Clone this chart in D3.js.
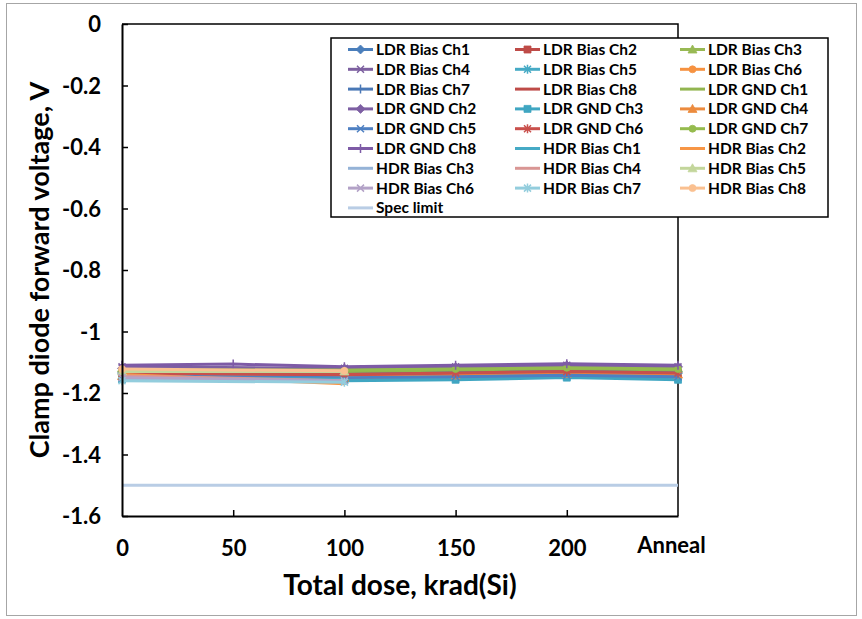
<!DOCTYPE html>
<html>
<head>
<meta charset="utf-8">
<script src="https://cdn.jsdelivr.net/npm/d3@7/dist/d3.min.js"></script>
<style>
  html, body { margin: 0; padding: 0; background: #fff; }
  svg { display: block; }
  text { font-family: Lato, "Open Sans", sans-serif; font-weight: bold; fill: #000; }
</style>
</head>
<body>
<svg id="chart" width="862" height="619"></svg>
<script>
// ---------- data ----------
const categories = ["0", "50", "100", "150", "200", "Anneal"];
const yTickValues = [0, -0.2, -0.4, -0.6, -0.8, -1, -1.2, -1.4, -1.6];
const yTickLabels = ["0", "-0.2", "-0.4", "-0.6", "-0.8", "-1", "-1.2", "-1.4", "-1.6"];

const seriesNames = [
  "LDR Bias Ch1", "LDR Bias Ch2", "LDR Bias Ch3", "LDR Bias Ch4", "LDR Bias Ch5", "LDR Bias Ch6",
  "LDR Bias Ch7", "LDR Bias Ch8", "LDR GND Ch1", "LDR GND Ch2", "LDR GND Ch3", "LDR GND Ch4",
  "LDR GND Ch5", "LDR GND Ch6", "LDR GND Ch7", "LDR GND Ch8", "HDR Bias Ch1", "HDR Bias Ch2",
  "HDR Bias Ch3", "HDR Bias Ch4", "HDR Bias Ch5", "HDR Bias Ch6", "HDR Bias Ch7", "HDR Bias Ch8",
  "Spec limit"
];

// values per category: 0, 50, 100, 150, 200, Anneal (null = not measured)
const ldrBiasCh1 = [-1.135, null, -1.140, -1.135, -1.130, -1.135];
const ldrBiasCh2 = [-1.140, null, -1.145, -1.140, -1.135, -1.140];
const ldrBiasCh3 = [-1.120, null, -1.125, -1.120, -1.115, -1.120];
const ldrBiasCh4 = [-1.115, null, -1.120, -1.115, -1.110, -1.115];
const ldrBiasCh5 = [-1.150, null, -1.155, -1.150, -1.145, -1.150];
const ldrBiasCh6 = [-1.140, null, -1.145, -1.140, -1.135, -1.138];
const ldrBiasCh7 = [-1.130, null, -1.135, -1.130, -1.125, -1.130];
const ldrBiasCh8 = [-1.140, null, -1.140, -1.138, -1.133, -1.137];
const ldrGndCh1  = [-1.125, null, -1.130, -1.125, -1.120, -1.125];
const ldrGndCh2  = [-1.120, null, -1.120, -1.116, -1.110, -1.115];
const ldrGndCh3  = [-1.155, null, -1.160, -1.157, -1.150, -1.157];
const ldrGndCh4  = [-1.145, null, -1.150, -1.143, -1.137, -1.140];
const ldrGndCh5  = [-1.145, null, -1.150, -1.147, -1.142, -1.147];
const ldrGndCh6  = [-1.135, null, -1.140, -1.135, -1.130, -1.135];
const ldrGndCh7  = [-1.125, null, -1.125, -1.122, -1.118, -1.122];
const ldrGndCh8  = [-1.110, -1.106, -1.115, -1.110, -1.105, -1.110];
const hdrBiasCh1 = [-1.150, null, -1.155, null, null, null];
const hdrBiasCh2 = [-1.140, null, -1.170, null, null, null];
const hdrBiasCh3 = [-1.155, null, -1.160, null, null, null];
const hdrBiasCh4 = [-1.145, null, -1.160, null, null, null];
const hdrBiasCh5 = [-1.130, null, -1.130, null, null, null];
const hdrBiasCh6 = [-1.150, null, -1.160, null, null, null];
const hdrBiasCh7 = [-1.160, null, -1.165, null, null, null];
const hdrBiasCh8 = [-1.122, null, -1.128, null, null, null];
const specLimit  = [-1.5, -1.5, -1.5, -1.5, -1.5, -1.5];

const seriesValues = [
  ldrBiasCh1, ldrBiasCh2, ldrBiasCh3, ldrBiasCh4, ldrBiasCh5, ldrBiasCh6, ldrBiasCh7, ldrBiasCh8,
  ldrGndCh1, ldrGndCh2, ldrGndCh3, ldrGndCh4, ldrGndCh5, ldrGndCh6, ldrGndCh7, ldrGndCh8,
  hdrBiasCh1, hdrBiasCh2, hdrBiasCh3, hdrBiasCh4, hdrBiasCh5, hdrBiasCh6, hdrBiasCh7, hdrBiasCh8,
  specLimit
];

// ---------- styles ----------
const colors = [
  "#4A7EBB", "#BE4B48", "#98B954", "#7D60A0", "#46AAC5", "#F69240",
  "#4A78B6", "#BE4B48", "#92B550", "#7D5FA3", "#40A6C2", "#EC8B3E",
  "#4F80C2", "#C9504C", "#95BB4E", "#7E5BA6", "#46AAC5", "#F79646",
  "#95B3D7", "#D99694", "#C3D69B", "#B3A2C7", "#93CDDD", "#FAC090",
  "#B9CDE5"
];
const markers = [
  "diamond", "square", "triangle", "x", "star", "circle",
  "plus", "none", "none", "diamond", "square", "triangle",
  "x", "star", "circle", "plus", "none", "none",
  "none", "none", "triangle", "x", "star", "circle",
  "none"
];

function markerPath(type, s) {
  const h = s / 2;
  switch (type) {
    case "diamond": return `M0,${-h-1}L${h+1},0L0,${h+1}L${-h-1},0Z`;
    case "square": return `M${-h},${-h}H${h}V${h}H${-h}Z`;
    case "triangle": return `M0,${-h-1}L${h+1},${h}L${-h-1},${h}Z`;
    case "circle": return d3.symbol(d3.symbolCircle, Math.PI * h * h)();
    case "x": return `M${-h},${-h}L${h},${h}M${h},${-h}L${-h},${h}`;
    case "star": return `M${-h},${-h}L${h},${h}M${h},${-h}L${-h},${h}M0,${-h-1}V${h+1}`;
    case "plus": return `M0,${-h-1}V${h+1}M${-h},0H${h}`;
    default: return null;
  }
}
const strokeOnly = t => t === "x" || t === "star" || t === "plus";

// ---------- layout ----------
const svg = d3.select("#chart");
svg.append("rect").attr("x", 6.5).attr("y", 3.5).attr("width", 850).attr("height", 612)
  .attr("fill", "#fff").attr("stroke", "#A6A6A6").attr("stroke-width", 1);

const x = d3.scalePoint().domain(categories).range([122, 678]).padding(0);
const y = d3.scaleLinear().domain([-1.6, 0]).range([516, 24]);

// plot border (top & right)
svg.append("path")
  .attr("d", `M${x.range()[0]},${y(0)}H${x.range()[1]}V${y(-1.6)}`)
  .attr("fill", "none").attr("stroke", "#000").attr("stroke-width", 1.5);

// series
const line = d3.line()
  .defined(d => d.v !== null)
  .x(d => x(d.c)).y(d => y(d.v));

const gSeries = svg.append("g");
seriesValues.forEach((vals, i) => {
  const pts = vals.map((v, j) => ({ c: categories[j], v }));
  const defined = pts.filter(d => d.v !== null);
  const g = gSeries.append("g");
  g.append("path").datum(defined).attr("d", line)
    .attr("fill", "none").attr("stroke", colors[i]).attr("stroke-width", 3)
    .attr("stroke-linejoin", "round");
  const mp = markerPath(markers[i], 7);
  if (mp) {
    g.selectAll("path.m").data(defined).join("path").attr("class", "m")
      .attr("transform", d => `translate(${x(d.c)},${y(d.v)})`)
      .attr("d", mp)
      .attr("fill", strokeOnly(markers[i]) ? "none" : colors[i])
      .attr("stroke", colors[i])
      .attr("stroke-width", strokeOnly(markers[i]) ? 1.5 : 0.8);
  }
});

// axes
const yAxis = d3.axisLeft(y).tickValues(yTickValues)
  .tickFormat((d, i) => yTickLabels[i])
  .tickSizeInner(-6).tickSizeOuter(0).tickPadding(21);
const gy = svg.append("g").attr("transform", `translate(${x.range()[0]},0)`).call(yAxis);
gy.select(".domain").attr("stroke", "#000").attr("stroke-width", 2);
gy.selectAll(".tick line").attr("stroke", "#000").attr("stroke-width", 1.5);
gy.selectAll(".tick text").style("font-size", "22px").attr("font-family", null).attr("dy", "0.36em");

const xAxis = d3.axisBottom(x).tickSizeInner(-6).tickSizeOuter(0).tickPadding(25);
const gx = svg.append("g").attr("transform", `translate(0,${y(-1.6)})`).call(xAxis);
gx.select(".domain").attr("stroke", "#000").attr("stroke-width", 2);
gx.selectAll(".tick line").attr("stroke", "#000").attr("stroke-width", 1.5)
  .attr("display", (d, i) => (i === 0 || i === categories.length - 1) ? "none" : null);
gx.selectAll(".tick text").style("font-size", "22px").attr("font-family", null)
  .attr("dy", "0")
  .attr("dx", d => d === "Anneal" ? -7 : 0)
  .attr("y", d => d === "Anneal" ? 37 : 40);

// axis titles
svg.append("text").attr("transform", "translate(49,270) rotate(-90)")
  .attr("text-anchor", "middle").style("font-size", "27px")
  .text("Clamp diode forward voltage, V");
svg.append("text").attr("x", 400).attr("y", 595)
  .attr("text-anchor", "middle").style("font-size", "28px")
  .text("Total dose, krad(Si)");

// legend
const lg = svg.append("g");
lg.append("rect").attr("x", 331).attr("y", 38).attr("width", 497).attr("height", 179)
  .attr("fill", "#fff").attr("stroke", "#000").attr("stroke-width", 1.5);
const colX = [348, 515, 680];
seriesNames.forEach((name, i) => {
  const col = i % 3, row = Math.floor(i / 3);
  const lx = colX[col], ly = 49.5 + row * 19.8;
  const g = lg.append("g").attr("transform", `translate(${lx},${ly})`);
  g.append("line").attr("x1", 0).attr("x2", 25).attr("y1", 0).attr("y2", 0)
    .attr("stroke", colors[i]).attr("stroke-width", 3);
  const mp = markerPath(markers[i], 7);
  if (mp) {
    g.append("path").attr("transform", "translate(12.5,0)").attr("d", mp)
      .attr("fill", strokeOnly(markers[i]) ? "none" : colors[i])
      .attr("stroke", colors[i]).attr("stroke-width", strokeOnly(markers[i]) ? 1.5 : 0.8);
  }
  g.append("text").attr("x", 28).attr("y", 0).attr("dy", "0.35em")
    .style("font-size", "15.5px").text(name);
});
</script>
</body>
</html>
